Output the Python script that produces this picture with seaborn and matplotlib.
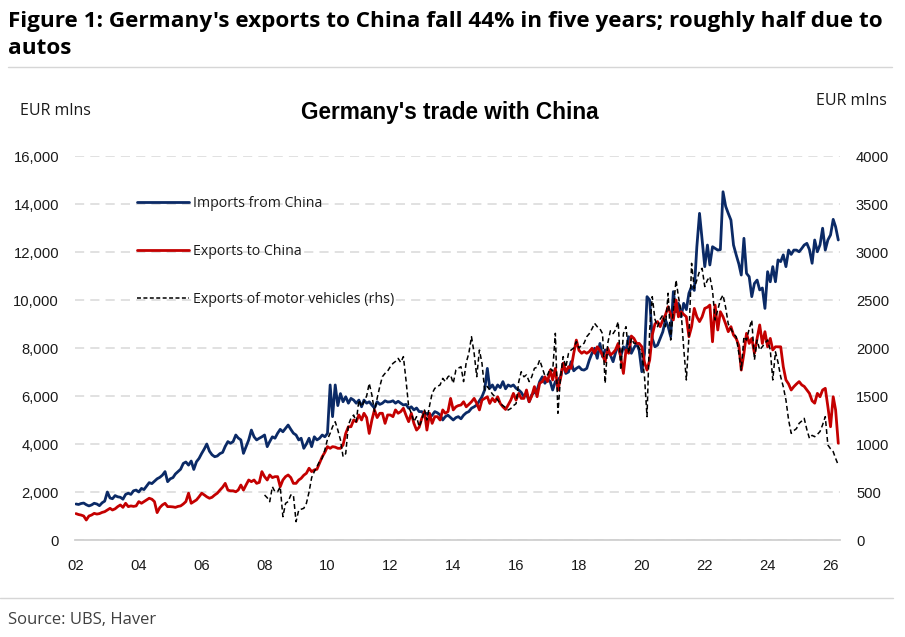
import numpy as np
import pandas as pd
import matplotlib
matplotlib.use("Agg")
import matplotlib.pyplot as plt
from matplotlib.lines import Line2D
import seaborn as sns

# ---------------- data (EUR mlns, monthly) ----------------
start_month = "2002-01-01"
motor_start_month = "2008-01-01"

imports_from_china = [
    1500, 1480, 1520, 1540, 1470, 1420, 1460, 1530, 1500, 1430, 1550, 1620,   # 2002
    2000, 1750, 1720, 1850, 1800, 1780, 1700, 1900, 1950, 1900, 2050, 2080,   # 2003
    2000, 2150, 2100, 2250, 2390, 2350, 2450, 2550, 2610, 2700, 2850, 2430,   # 2004
    2550, 2600, 2750, 2850, 2950, 3190, 3250, 3120, 3290, 2940, 3260, 3400,   # 2005
    3610, 3800, 4000, 3700, 3550, 3470, 3500, 3600, 3650, 3900, 4100, 4030,   # 2006
    4100, 4375, 4250, 4170, 3610, 3900, 4170, 4580, 4300, 4170, 4240, 4300,   # 2007
    4375, 3890, 4100, 4300, 4240, 4450, 4610, 4510, 4650, 4790, 4610, 4450,   # 2008
    4375, 4170, 4240, 3820, 4000, 4240, 3890, 4300, 4170, 4240, 4375, 4300,   # 2009
    4440, 6460, 5140, 6460, 5600, 6100, 5760, 5970, 5700, 5900, 5830, 5700,   # 2010
    5830, 5550, 5830, 5700, 5760, 5620, 5500, 5760, 5650, 5700, 5800, 5750,   # 2011
    5760, 5800, 5700, 5780, 5700, 5625, 5650, 5490, 5550, 5420, 5500, 5350,   # 2012
    5350, 5210, 5280, 5110, 5200, 5350, 5300, 5210, 5000, 5140, 5200, 5100,   # 2013
    5000, 5100, 5140, 5050, 5200, 5300, 5350, 5490, 5550, 5625, 5800, 5970,   # 2014
    6250, 7150, 6320, 6460, 6250, 6460, 6350, 6600, 6300, 6460, 6400, 6460,   # 2015
    6320, 6250, 6150, 5970, 6100, 5760, 6050, 6150, 6250, 6600, 6800, 6530,   # 2016
    6700, 6600, 6250, 6600, 6670, 6800, 7360, 6940, 7000, 7430, 7050, 7150,   # 2017
    7220, 7100, 7080, 7150, 7500, 7780, 7990, 7570, 8190, 7640, 7920, 7800,   # 2018
    7700, 7430, 7800, 8120, 7640, 8050, 7900, 8470, 7780, 8000, 8190, 7900,   # 2019
    7010, 7780, 10140, 10000, 8400, 8050, 8120, 8400, 8680, 9170, 8900, 8470, # 2020
    10350, 9510, 9860, 9300, 9860, 9600, 10280, 10560, 10400, 12220, 13610, 12500,  # 2021
    11390, 12290, 11460, 12220, 12150, 12080, 12100, 14510, 13900, 13610, 13330, 12290,  # 2022
    11880, 11500, 11040, 12570, 11110, 10970, 10140, 10690, 10830, 10420, 10500, 9650,  # 2023
    11180, 10760, 11390, 10760, 11670, 11600, 11880, 11390, 12080, 11900, 12080, 12080,  # 2024
    12010, 12150, 12290, 12360, 12100, 11530, 12500, 12010, 12300, 12990, 12080, 12500,  # 2025
    12710, 13360, 13050, 12500,                                                # 2026
]

exports_to_china = [
    1100, 1060, 1040, 1000, 833, 1000, 1040, 1110, 1080, 1100, 1150, 1180,    # 2002
    1250, 1320, 1250, 1300, 1390, 1460, 1360, 1530, 1390, 1420, 1400, 1420,   # 2003
    1600, 1530, 1600, 1670, 1740, 1700, 1600, 1140, 1350, 1460, 1530, 1390,   # 2004
    1390, 1380, 1360, 1400, 1420, 1500, 1600, 1950, 1530, 1600, 1670, 1800,   # 2005
    1950, 1875, 1800, 1740, 1780, 1875, 1950, 2080, 2200, 2360, 2080, 2050,   # 2006
    2050, 2010, 2080, 2290, 2080, 2300, 2500, 2430, 2500, 2360, 2400, 2850,   # 2007
    2640, 2500, 2710, 2600, 2640, 2640, 2220, 2500, 2640, 2710, 2600, 2360,   # 2008
    2360, 2500, 2570, 2700, 2780, 2990, 2850, 2920, 2950, 3200, 3470, 3650,   # 2009
    3890, 3820, 3890, 3870, 3820, 3820, 3960, 4440, 4720, 4720, 5000, 4930,   # 2010
    5210, 5000, 5280, 5100, 4440, 5000, 5420, 5100, 5280, 5280, 4860, 5210,   # 2011
    5210, 5140, 5420, 5280, 5350, 5490, 5200, 4930, 5280, 4860, 4580, 4700,   # 2012
    5070, 5350, 4580, 5280, 4860, 5140, 5140, 5000, 5420, 5280, 5350, 5900,   # 2013
    5420, 5550, 5600, 5625, 5760, 5550, 5650, 5760, 5900, 5690, 5420, 5830,   # 2014
    5900, 5970, 5690, 5900, 5760, 5970, 5690, 5550, 5440, 5625, 5830, 6110,   # 2015
    5830, 6110, 5900, 5900, 6250, 5760, 6000, 6390, 5970, 6530, 6600, 6800,   # 2016
    6600, 7080, 6670, 7150, 6250, 6740, 7360, 7010, 7220, 7150, 7780, 8330,   # 2017
    7900, 7780, 7850, 7780, 7850, 7990, 7780, 8050, 7900, 7710, 7430, 7990,   # 2018
    7710, 7800, 7920, 8190, 7600, 6940, 7920, 7780, 8500, 8400, 8190, 8190,   # 2019
    8050, 7400, 7080, 7500, 8540, 9000, 9100, 8890, 9170, 9380, 9720, 9400,   # 2020
    9170, 10000, 9300, 9510, 9400, 9300, 8470, 8890, 9650, 9300, 9100, 9300,  # 2021
    9650, 9700, 9790, 8260, 9790, 8750, 9510, 9300, 9000, 8680, 8890, 8540,   # 2022
    8400, 8100, 7080, 7780, 8610, 8190, 8400, 7780, 8400, 8960, 8190, 8680,   # 2023
    8050, 8400, 7920, 8050, 8050, 8050, 7220, 6670, 6500, 6250, 6390, 6500,   # 2024
    6600, 6460, 6400, 6250, 6110, 5800, 5700, 6110, 5970, 6250, 6320, 5560,   # 2025
    4720, 5970, 5420, 4030,                                                    # 2026
]

motor_vehicle_exports = [
    469, 440, 399, 555, 503, 503, 555, 243, 382, 400, 469, 469,               # 2008
    191, 312, 320, 330, 382, 500, 650, 712, 764, 820, 851, 937,               # 2009
    1050, 1111, 1180, 1232, 1146, 1042, 868, 900, 1200, 1267, 1302, 1232,     # 2010
    1458, 1389, 1440, 1500, 1632, 1510, 1337, 1476, 1600, 1701, 1736, 1760,   # 2011
    1805, 1840, 1860, 1892, 1850, 1910, 1667, 1389, 1320, 1232, 1285, 1180,   # 2012
    1250, 1354, 1250, 1400, 1528, 1580, 1600, 1615, 1684, 1650, 1700, 1719,   # 2013
    1632, 1771, 1790, 1805, 1650, 1850, 1944, 2118, 1944, 1701, 1979, 1840,   # 2014
    1563, 1600, 1563, 1520, 1493, 1458, 1420, 1400, 1380, 1354, 1370, 1400,   # 2015
    1420, 1649, 1753, 1700, 1720, 1650, 1700, 1788, 1800, 1875, 1790, 1710,   # 2016
    1720, 1788, 1760, 2153, 1320, 1700, 1910, 1800, 1944, 1979, 2000, 2066,   # 2017
    2000, 2030, 2050, 2118, 2150, 2200, 2257, 2222, 2200, 2150, 1632, 2050,   # 2018
    2180, 2150, 2188, 2274, 1771, 2150, 2222, 1944, 2100, 2050, 2050, 2000,   # 2019
    1944, 1701, 1285, 2188, 2535, 2300, 2222, 2300, 2344, 2222, 2570, 2083,   # 2020
    2400, 2708, 2535, 2380, 2000, 1667, 2118, 2882, 2620, 2708, 2800, 2830,   # 2021
    2640, 2708, 2743, 2600, 2292, 2400, 2500, 2552, 2420, 2250, 2200, 2150,   # 2022
    2118, 1944, 1771, 2118, 2083, 2200, 2292, 1875, 2083, 1979, 2014, 2050,   # 2023
    2083, 1979, 1667, 1960, 1850, 1700, 1597, 1458, 1250, 1111, 1140, 1160,   # 2024
    1215, 1240, 1267, 1150, 1059, 1090, 1076, 1100, 1130, 1200, 1285, 990,    # 2025
    950, 920, 850, 781,                                                        # 2026
]

left_ticks = [0, 2000, 4000, 6000, 8000, 10000, 12000, 14000, 16000]
right_ticks = [0, 500, 1000, 1500, 2000, 2500, 3000, 3500, 4000]
x_tick_years = list(range(2002, 2027, 2))

series_labels = ["Imports from China", "Exports to China", "Exports of motor vehicles (rhs)"]
series_colors = ["#0B2A66", "#C40000", "#000000"]

# ---------------- frames ----------------
trade = pd.DataFrame({
    "date": pd.date_range(start_month, periods=len(imports_from_china), freq="MS"),
    "imports": imports_from_china,
    "exports": exports_to_china,
})
motor = pd.DataFrame({
    "date": pd.date_range(motor_start_month, periods=len(motor_vehicle_exports), freq="MS"),
    "motor": motor_vehicle_exports,
})

# ---------------- style ----------------
sns.set_theme(style="white")
plt.rcParams["font.family"] = ["Liberation Sans", "DejaVu Sans"]
plt.rcParams["axes.unicode_minus"] = False

UI_FONT = ["Open Sans", "Lato", "DejaVu Sans"]

W, H = 905, 637
fig = plt.figure(figsize=(W / 100, H / 100), dpi=100)
fig.patch.set_facecolor("white")

def fx(px):
    return px / W

def fy(py):
    return 1 - py / H

ax_left, ax_right, ax_top, ax_bot = 75, 840, 156, 540
ax = fig.add_axes([fx(ax_left), fy(ax_bot), (ax_right - ax_left) / W, (ax_bot - ax_top) / H])
ax2 = ax.twinx()

sns.lineplot(data=trade, x="date", y="imports", ax=ax, color=series_colors[0],
             linewidth=2.0, label=series_labels[0], legend=False)
sns.lineplot(data=trade, x="date", y="exports", ax=ax, color=series_colors[1],
             linewidth=2.0, label=series_labels[1], legend=False)
sns.lineplot(data=motor, x="date", y="motor", ax=ax2, color=series_colors[2],
             linewidth=1.1, label=series_labels[2], legend=False)
for ln in ax2.get_lines():
    ln.set_dashes([3.2, 2.0])

# axes limits
x0 = pd.Timestamp(start_month) - pd.Timedelta(days=11)
x1 = trade["date"].iloc[-1] + pd.Timedelta(days=20)
ax.set_xlim(x0, x1)
ax.set_ylim(0, 16000)
ax2.set_ylim(0, 4000)

# ticks
ax.set_yticks(left_ticks)
ax.set_yticklabels([f"{v:,}" for v in left_ticks])
ax2.set_yticks(right_ticks)
ax2.set_yticklabels([str(v) for v in right_ticks])
ax.set_xticks([pd.Timestamp(f"{y}-01-01") for y in x_tick_years])
ax.set_xticklabels([f"{y % 100:02d}" for y in x_tick_years])

tick_font = dict(labelsize=10.6, labelcolor="#1a1a1a")
ax.tick_params(axis="y", length=0, pad=11.5, **tick_font)
ax2.tick_params(axis="y", length=0, pad=11.5, **tick_font)
ax.tick_params(axis="x", length=0, pad=13.5, **tick_font)

ax.set_xlabel("")
ax.set_ylabel("")
ax2.set_ylabel("")

# grid
ax.yaxis.grid(True, color="#D9D9D9", linewidth=1.1, linestyle=(0, (6, 4)))
ax.xaxis.grid(False)
ax2.grid(False)
ax.set_axisbelow(True)

for a in (ax, ax2):
    for s in ("top", "left", "right", "bottom"):
        a.spines[s].set_visible(False)
ax.spines["bottom"].set_visible(True)
ax.spines["bottom"].set_color("#D0D0D0")
ax.spines["bottom"].set_linewidth(1.3)
ax.patch.set_alpha(0)
ax2.patch.set_alpha(0)

# legend
handles = [
    Line2D([], [], color=series_colors[0], linewidth=2.0),
    Line2D([], [], color=series_colors[1], linewidth=2.0),
    Line2D([], [], color=series_colors[2], linewidth=1.1, dashes=[2.6, 1.6]),
]
leg = ax2.legend(handles, series_labels, loc="upper left",
                 bbox_to_anchor=(fx(137), fy(196)), bbox_transform=fig.transFigure,
                 frameon=False, borderpad=0, borderaxespad=0,
                 handlelength=3.7, handletextpad=0.25, labelspacing=2.32,
                 prop={"family": UI_FONT, "size": 10.2})
for t in leg.get_texts():
    t.set_color("#1a1a1a")

# texts
title_kw = dict(ha="left", va="baseline", fontsize=16.2, fontweight="bold",
                family=UI_FONT, color="#000000")
fig.text(fx(8), fy(27), "Figure 1: Germany's exports to China fall 44% in five years; roughly half due to",
         **title_kw)
fig.text(fx(8), fy(54), "autos", **title_kw)
fig.text(fx(450), fy(113), "Germany's trade with China", ha="center", va="center",
         fontsize=16.3, fontweight="bold", family=["Liberation Sans", "DejaVu Sans"], color="#000000")
fig.text(fx(20), fy(111), "EUR mlns", ha="left", va="center", fontsize=11.5,
         family=UI_FONT, color="#1a1a1a")
fig.text(fx(887), fy(101), "EUR mlns", ha="right", va="center", fontsize=11.5,
         family=UI_FONT, color="#1a1a1a")
fig.text(fx(8), fy(620), "Source: UBS, Haver", ha="left", va="center", fontsize=12,
         family=UI_FONT, color="#404040")

# separator rules
fig.add_artist(Line2D([fx(8), fx(892)], [fy(67), fy(67)], color="#D6D6D6", linewidth=1.0,
                      transform=fig.transFigure))
fig.add_artist(Line2D([fx(0), fx(893)], [fy(598), fy(598)], color="#D6D6D6", linewidth=1.0,
                      transform=fig.transFigure))

fig.savefig("out.png", dpi=100, facecolor="white")
